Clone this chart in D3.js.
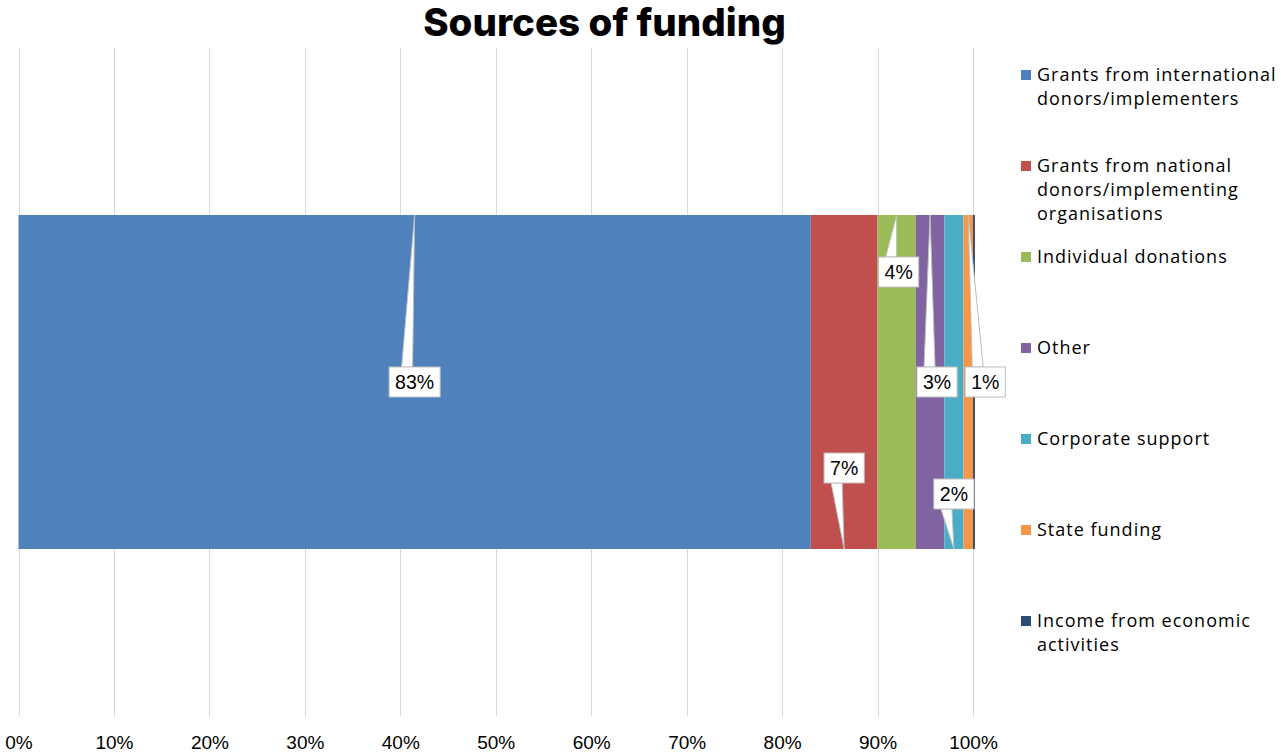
<!DOCTYPE html>
<html>
<head>
<meta charset="utf-8">
<script src="https://cdn.jsdelivr.net/npm/d3@7"></script>
<style>
  html, body { margin: 0; padding: 0; background: #ffffff; }
  svg { display: block; }
</style>
</head>
<body>
<svg id="chart" width="1281" height="753"></svg>
<script>
// Funding sources, share of total (%)
const categories = ["Sources of funding"];
const seriesNames = [
  "Grants from international donors/implementers",
  "Grants from national donors/implementing organisations",
  "Individual donations",
  "Other",
  "Corporate support",
  "State funding",
  "Income from economic activities"
];
const seriesValues = [83, 7, 4, 3, 2, 1, 0.2];
const valueLabels = ["83%", "7%", "4%", "3%", "2%", "1%", null];
const tickValues = [0, 10, 20, 30, 40, 50, 60, 70, 80, 90, 100];
const tickLabels = ["0%", "10%", "20%", "30%", "40%", "50%", "60%", "70%", "80%", "90%", "100%"];

// Legend line breaks
const legendLines = [
  ["Grants from international", "donors/implementers"],
  ["Grants from national", "donors/implementing", "organisations"],
  ["Individual donations"],
  ["Other"],
  ["Corporate support"],
  ["State funding"],
  ["Income from economic", "activities"]
];

const colors = ["#4F81BD", "#C0504D", "#9BBB59", "#8064A2", "#4BACC6", "#F79646", "#2C4D75"];

// Callout placement: which bar edge the pointer touches, and the box centre offset from that point
const calloutLayout = [
  { edge: "top",    dx: 0,   dy: 167 },
  { edge: "bottom", dx: 0,   dy: -81 },
  { edge: "top",    dx: 2,   dy: 57 },
  { edge: "top",    dx: 7,   dy: 167 },
  { edge: "bottom", dx: 0,   dy: -55 },
  { edge: "top",    dx: 17,  dy: 167 },
  null
];

const svg = d3.select("#chart");
const plot = { left: 18.5, right: 973, top: 48, bottom: 716 };

const x = d3.scaleLinear().domain([0, 100]).range([plot.left, plot.right]);
const y = d3.scaleBand().domain(categories).range([plot.top, plot.bottom]).paddingInner(0.5).paddingOuter(0.25);

// Title
svg.append("text")
  .attr("x", 604.5).attr("y", 36)
  .attr("text-anchor", "middle")
  .style("font-family", "Inter, 'Liberation Sans', sans-serif")
  .style("font-weight", 800)
  .style("font-size", "38.5px")
  .style("fill", "#000")
  .text("Sources of funding");

// Vertical gridlines
svg.append("g")
  .selectAll("line")
  .data(tickValues)
  .join("line")
  .attr("x1", d => Math.round(x(d)) + 0.5).attr("x2", d => Math.round(x(d)) + 0.5)
  .attr("y1", plot.top).attr("y2", plot.bottom)
  .attr("stroke", "#d9d9d9").attr("stroke-width", 1);

// Axis labels
const axis = d3.axisBottom(x).tickValues(tickValues).tickFormat((d, i) => tickLabels[i]).tickSize(0).tickPadding(0);
const axisG = svg.append("g").attr("transform", `translate(0, ${plot.bottom})`).call(axis);
axisG.select(".domain").remove();
axisG.selectAll("text")
  .attr("y", 33).attr("dy", null)
  .style("font-family", "'Liberation Sans', Arial, sans-serif")
  .style("font-size", "19px")
  .style("fill", "#000");

// Stacked segments
const stacked = [];
let acc = 0;
seriesValues.forEach((v, i) => { stacked.push({ i, v, x0: acc, x1: acc + v }); acc += v; });

const cat = categories[0];
svg.append("g")
  .selectAll("rect")
  .data(stacked)
  .join("rect")
  .attr("x", d => x(d.x0))
  .attr("width", d => x(d.x1) - x(d.x0))
  .attr("y", y(cat))
  .attr("height", y.bandwidth())
  .attr("fill", d => colors[d.i]);

// Data callouts
const calloutG = svg.append("g");
stacked.forEach(d => {
  const lay = calloutLayout[d.i];
  const label = valueLabels[d.i];
  if (!lay || !label) return;
  const ax = x((d.x0 + d.x1) / 2);
  const ay = lay.edge === "top" ? y(cat) : y(cat) + y.bandwidth();
  const cx = ax + lay.dx;
  const cy = ay + lay.dy;

  const g = calloutG.append("g");
  const t = g.append("text")
    .attr("x", cx).attr("y", cy)
    .attr("text-anchor", "middle")
    .attr("dominant-baseline", "central")
    .style("font-family", "'Liberation Sans', Arial, sans-serif")
    .style("font-size", "19.5px")
    .style("fill", "#000")
    .text(label);
  const tw = t.node().getComputedTextLength();
  const bw = tw + 12, bh = 30;
  const bx = cx - bw / 2, by = cy - bh / 2;
  const edgeY = lay.edge === "top" ? by : by + bh;

  g.insert("path", "text")
    .attr("d", `M${ax},${ay}L${cx - 13},${edgeY}L${cx - 2},${edgeY}Z`)
    .attr("fill", "#fff").attr("stroke", "#bfbfbf").attr("stroke-width", 1);
  g.insert("rect", "text")
    .attr("x", bx).attr("y", by).attr("width", bw).attr("height", bh)
    .attr("fill", "#fff").attr("stroke", "#bfbfbf").attr("stroke-width", 1);
});

// Legend
const legend = svg.append("g");
const legendTop = 75, legendStep = 91, lineH = 24;
seriesNames.forEach((name, i) => {
  const ly = legendTop + i * legendStep;
  const g = legend.append("g");
  g.append("rect").attr("x", 1021).attr("y", ly - 5).attr("width", 10).attr("height", 10).attr("fill", colors[i]);
  const t = g.append("text")
    .attr("x", 1037).attr("y", ly)
    .style("font-family", "'Open Sans', sans-serif")
    .style("font-size", "18px")
    .style("letter-spacing", "1px")
    .style("fill", "#000");
  legendLines[i].forEach((ln, k) => {
    t.append("tspan").attr("x", 1037).attr("y", ly + k * lineH).attr("dy", "0.35em").text(ln);
  });
});
</script>
</body>
</html>
